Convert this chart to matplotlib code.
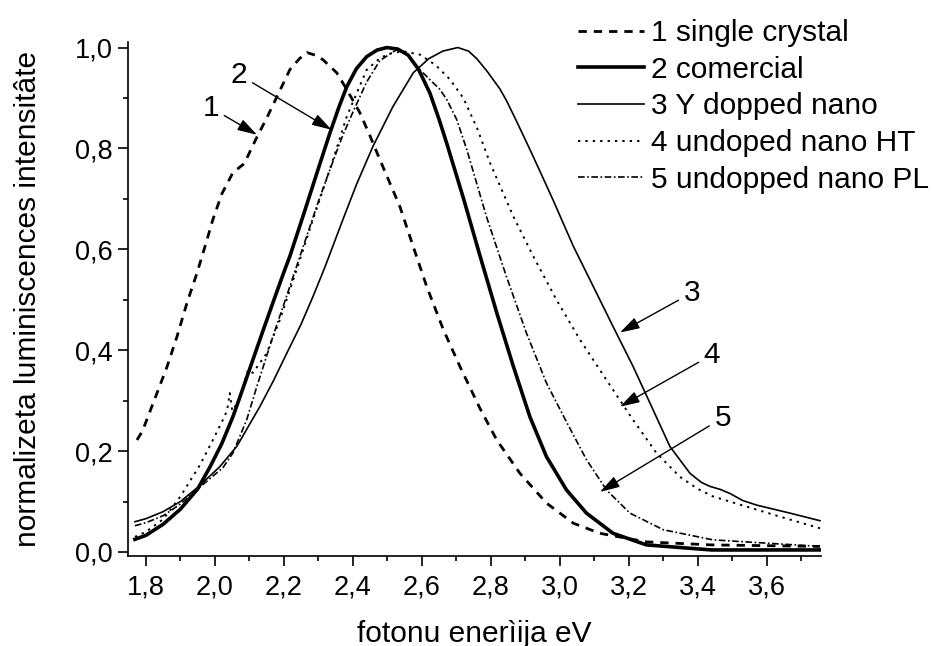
import numpy as np
import matplotlib
matplotlib.use("Agg")
import matplotlib.pyplot as plt
from matplotlib.ticker import MultipleLocator, FuncFormatter

plt.rcParams['font.family'] = ['Liberation Sans', 'DejaVu Sans']

# 1 single crystal
x1 = [1.774, 1.79, 1.832, 1.861, 1.89, 1.919, 1.948, 1.977, 1.994, 2.02, 2.052, 2.085,
      2.122, 2.15, 2.18, 2.217, 2.245, 2.267, 2.29, 2.313, 2.353, 2.382, 2.42, 2.45,
      2.478, 2.536, 2.575, 2.614, 2.662, 2.71, 2.768, 2.817, 2.884, 2.961, 3.039,
      3.116, 3.251, 3.44, 3.754]
y1 = [0.222, 0.24, 0.315, 0.367, 0.427, 0.494, 0.553, 0.619, 0.659, 0.71, 0.752, 0.77,
      0.823, 0.86, 0.903, 0.956, 0.978, 0.99, 0.985, 0.976, 0.95, 0.917, 0.871, 0.824,
      0.778, 0.685, 0.605, 0.526, 0.441, 0.368, 0.285, 0.222, 0.156, 0.097, 0.057,
      0.037, 0.020, 0.014, 0.011]

# 2 comercial
x2 = [1.768, 1.8, 1.85, 1.9, 1.95, 1.986, 2.02, 2.052, 2.08, 2.11, 2.14, 2.168, 2.2,
      2.217, 2.255, 2.295, 2.333, 2.36, 2.382, 2.41, 2.44, 2.47, 2.498, 2.53, 2.56,
      2.59, 2.623, 2.65, 2.672, 2.72, 2.768, 2.817, 2.865, 2.913, 2.961, 3.019, 3.077,
      3.154, 3.251, 3.44, 3.754]
y2 = [0.025, 0.033, 0.055, 0.085, 0.125, 0.169, 0.215, 0.268, 0.322, 0.381, 0.44, 0.494,
      0.555, 0.586, 0.665, 0.75, 0.83, 0.883, 0.922, 0.958, 0.982, 0.995, 1.0, 0.997,
      0.985, 0.957, 0.91, 0.857, 0.81, 0.702, 0.588, 0.474, 0.368, 0.268, 0.189, 0.123,
      0.077, 0.037, 0.014, 0.004, 0.004]

# 3 Y dopped nano
x3 = [1.768, 1.8, 1.85, 1.9, 1.95, 2.014, 2.064, 2.13, 2.17, 2.209, 2.25, 2.284, 2.319,
      2.345, 2.371, 2.41, 2.458, 2.516, 2.575, 2.62, 2.661, 2.704, 2.735, 2.759, 2.79,
      2.826, 2.845, 2.875, 2.913, 2.942, 2.98, 3.039, 3.097, 3.154, 3.212, 3.27, 3.319,
      3.377, 3.41, 3.435, 3.465, 3.493, 3.53, 3.57, 3.667, 3.754]
y3 = [0.06, 0.066, 0.08, 0.1, 0.128, 0.169, 0.21, 0.288, 0.34, 0.395, 0.452, 0.506, 0.565,
      0.612, 0.659, 0.728, 0.804, 0.883, 0.95, 0.978, 0.993, 1.0, 0.993, 0.978, 0.952,
      0.918, 0.895, 0.853, 0.798, 0.755, 0.698, 0.606, 0.526, 0.447, 0.368, 0.282, 0.209,
      0.156, 0.138, 0.130, 0.124, 0.116, 0.102, 0.093, 0.077, 0.062]

# 4 undoped nano HT
x4 = [1.768, 1.8, 1.85, 1.9, 1.957, 1.994, 2.023, 2.035, 2.043, 2.05, 2.07, 2.096, 2.11,
      2.15, 2.188, 2.237, 2.284, 2.333, 2.382, 2.44, 2.48, 2.516, 2.55, 2.594, 2.64,
      2.681, 2.72, 2.76, 2.797, 2.865, 2.923, 2.99, 3.058, 3.135, 3.212, 3.28, 3.348,
      3.4, 3.444, 3.541, 3.638, 3.754]
y4 = [0.03, 0.04, 0.065, 0.11, 0.173, 0.222, 0.262, 0.28, 0.315, 0.28, 0.3, 0.361, 0.355,
      0.394, 0.46, 0.56, 0.659, 0.758, 0.863, 0.956, 0.98, 0.99, 0.992, 0.986, 0.965,
      0.937, 0.9, 0.84, 0.772, 0.665, 0.586, 0.5, 0.421, 0.341, 0.262, 0.196, 0.149,
      0.125, 0.110, 0.090, 0.070, 0.047]

# 5 undopped nano PL
x5 = [1.768, 1.8, 1.85, 1.9, 1.95, 2.023, 2.052, 2.092, 2.121, 2.168, 2.217, 2.267, 2.3,
      2.33, 2.37, 2.4, 2.44, 2.478, 2.527, 2.56, 2.594, 2.652, 2.672, 2.701, 2.73, 2.787,
      2.845, 2.903, 2.961, 3.019, 3.077, 3.135, 3.203, 3.3, 3.444, 3.754]
y5 = [0.052, 0.058, 0.072, 0.095, 0.125, 0.167, 0.196, 0.262, 0.327, 0.427, 0.526, 0.628,
      0.695, 0.752, 0.825, 0.872, 0.932, 0.974, 0.996, 0.985, 0.956, 0.917, 0.897, 0.857,
      0.798, 0.665, 0.546, 0.434, 0.335, 0.258, 0.183, 0.123, 0.077, 0.044, 0.024, 0.011]

labels = ['1 single crystal', '2 comercial', '3 Y dopped nano',
          '4 undoped nano HT', '5 undopped nano PL']

# curve numbers: (text position, arrow tip)
notes = [('1', (1.988, 0.881), (2.122, 0.827)),
         ('2', (2.07, 0.946), (2.338, 0.837)),
         ('3', (3.383, 0.514), (3.174, 0.435)),
         ('4', (3.441, 0.391), (3.174, 0.288)),
         ('5', (3.472, 0.266), (3.116, 0.119))]

fig = plt.figure(figsize=(9.33, 6.46), dpi=100)
ax = fig.add_axes([0.1372, 0.1393, 0.7428, 0.7957])

ax.plot(x1, y1, color='k', lw=2.0, ls=(0, (3, 2.5)), label=labels[0])
ax.plot(x2, y2, color='k', lw=2.6, ls='-', label=labels[1])
ax.plot(x3, y3, color='k', lw=1.2, ls='-', label=labels[2])
ax.plot(x4, y4, color='k', lw=1.4, ls=(0, (1.2, 2.6)), label=labels[3])
ax.plot(x5, y5, color='k', lw=1.2, ls=(0, (4, 1.5, 1, 1.5)), label=labels[4])

for t, xyt, xy in notes:
    ax.annotate(t, xy=xy, xytext=xyt, fontsize=21.5, ha='center', va='center',
                arrowprops=dict(arrowstyle='-|>,head_length=0.6,head_width=0.18',
                                color='k', lw=1.0, mutation_scale=20, shrinkB=0))

ax.set_xlim(1.748, 3.757)
ax.set_ylim(-0.008, 1.011)
ax.xaxis.set_major_locator(MultipleLocator(0.2))
ax.xaxis.set_minor_locator(MultipleLocator(0.1))
ax.yaxis.set_major_locator(MultipleLocator(0.2))
ax.yaxis.set_minor_locator(MultipleLocator(0.1))
comma = FuncFormatter(lambda v, p: ('%.1f' % v).replace('.', ','))
ax.xaxis.set_major_formatter(comma)
ax.yaxis.set_major_formatter(comma)

for s in ['top', 'right']:
    ax.spines[s].set_visible(False)
for s in ['left', 'bottom']:
    ax.spines[s].set_linewidth(1.2)
ax.tick_params(which='major', direction='out', length=7, width=1.2, labelsize=19.5)
ax.tick_params(which='minor', direction='out', length=3.5, width=1.2)
ax.tick_params(axis='x', which='major', pad=6)
ax.tick_params(axis='y', which='major', pad=4)

ax.set_xlabel('fotonu enerìija eV', fontsize=21.5, labelpad=14)
ax.set_ylabel('normalizeta luminiscences intensitâte', fontsize=21.5, labelpad=24)

fig.legend(loc='upper left', bbox_to_anchor=(578 / 933, 1 - 19 / 646), frameon=False,
           fontsize=21.5, handlelength=2.2, handletextpad=0.25, labelspacing=0.29,
           borderpad=0, borderaxespad=0)

fig.savefig('out.png', dpi=100)
